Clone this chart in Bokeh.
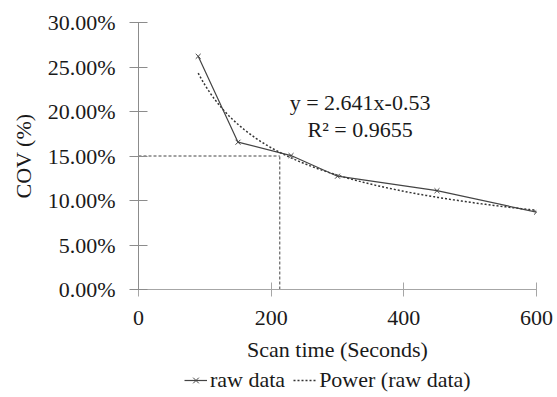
import numpy as np
from bokeh.plotting import figure
from bokeh.layouts import column
from bokeh.models import (Range1d, NumeralTickFormatter, FixedTicker, Legend, LegendItem, Label)
from bokeh.embed import file_html
from bokeh.resources import INLINE

# ---- data ----
scan_time = [90, 150, 230, 300, 450, 600]
cov = [0.262, 0.1655, 0.1505, 0.1273, 0.111, 0.0869]
fit_a = 2.641
fit_b = -0.53
ref_x = 213
ref_y = 0.15
x_ticks = [0, 200, 400, 600]
y_ticks = [0.0, 0.05, 0.10, 0.15, 0.20, 0.25, 0.30]
eq_text = "y = 2.641x-0.53"
r2_text = "R\u00b2 = 0.9655"
legend_labels = ["raw data", "Power (raw data)"]

FONT = "Liberation Serif"
TXT = "#1a1a1a"
RAW_C = "#444444"
FIT_C = "#333333"

p = figure(frame_width=398, frame_height=267, output_backend="svg", toolbar_location=None,
           x_range=Range1d(0, 600), y_range=Range1d(0, 0.30),
           min_border_left=138, min_border_right=21, min_border_top=22, min_border_bottom=76)
p.grid.visible = False
p.outline_line_color = None
p.background_fill_color = "white"
p.border_fill_color = "white"

# reference dashed lines
p.line([0, ref_x], [ref_y, ref_y], line_color="#444444", line_dash="3 2", line_width=1)
p.line([ref_x, ref_x], [0, ref_y], line_color="#444444", line_dash="3 2", line_width=1)

# power trendline (from the equation shown in the chart)
fx = np.linspace(scan_time[0], scan_time[-1], 200)
fy = fit_a * fx ** fit_b
p.line(fx, fy, line_color=FIT_C, line_dash="2 2", line_width=1.5)

p.line(scan_time, cov, line_color=RAW_C, line_width=1.2)
p.scatter(scan_time, cov, marker="x", size=7, line_color=RAW_C, line_width=1)

# axes
for ax in (p.xaxis, p.yaxis):
    ax.major_label_text_font = FONT
    ax.major_label_text_font_size = "22px"
    ax.major_label_text_color = TXT
    ax.axis_label_text_font = FONT
    ax.axis_label_text_font_size = "22px"
    ax.axis_label_text_font_style = "normal"
    ax.axis_label_text_color = TXT
    ax.minor_tick_line_color = None

p.xaxis.ticker = FixedTicker(ticks=x_ticks)
p.yaxis.ticker = FixedTicker(ticks=y_ticks)
p.yaxis.formatter = NumeralTickFormatter(format="0.00%")

p.xaxis.axis_line_color = "#a6a6a6"
p.xaxis.major_tick_line_color = "#a6a6a6"
p.xaxis.major_tick_in = 7
p.xaxis.major_tick_out = 7
p.xaxis.major_label_standoff = 14
p.xaxis.axis_label = "Scan time (Seconds)"
p.xaxis.axis_label_standoff = 9

p.yaxis.axis_line_color = "#8c8c8c"
p.yaxis.major_tick_line_color = "#8c8c8c"
p.yaxis.major_tick_in = 9
p.yaxis.major_tick_out = 9
p.yaxis.major_label_standoff = 14
p.yaxis.axis_label = "COV (%)"
p.yaxis.axis_label_standoff = 9

# equation labels
p.add_layout(Label(x=334, y=0.2104, text=eq_text, text_align="center", text_baseline="alphabetic",
                   text_font=FONT, text_font_size="22px", text_color=TXT))
p.add_layout(Label(x=334, y=0.1798, text=r2_text, text_align="center", text_baseline="alphabetic",
                   text_font=FONT, text_font_size="22px", text_color=TXT))

# legend strip below the chart (same series, drawn outside this strip's view)
q = figure(width=557, height=32, output_backend="svg", toolbar_location=None,
           x_range=Range1d(0, 1), y_range=Range1d(0, 1),
           min_border_left=0, min_border_right=0, min_border_top=0, min_border_bottom=0)
q.axis.visible = False
q.grid.visible = False
q.outline_line_color = None
q.border_fill_color = "white"
lr1 = q.line(scan_time, cov, line_color=RAW_C, line_width=1.2)
lr2 = q.scatter(scan_time, cov, marker="x", size=7, line_color=RAW_C, line_width=1)
lr3 = q.line(fx, fy, line_color=FIT_C, line_dash="2 2", line_width=1.5)

legend = Legend(items=[LegendItem(label=legend_labels[0], renderers=[lr1, lr2]),
                       LegendItem(label=legend_labels[1], renderers=[lr3])],
                orientation="horizontal", location=(46, 4))
legend.label_text_font = FONT
legend.label_text_font_size = "22px"
legend.label_text_color = TXT
legend.glyph_width = 23
legend.glyph_height = 20
legend.label_height = 20
legend.label_standoff = 3
legend.spacing = 8
legend.padding = 0
legend.margin = 0
legend.border_line_color = None
legend.background_fill_alpha = 0
q.add_layout(legend, "center")

layout = column(p, q, spacing=0)
open("out.html", "w").write(file_html(layout, INLINE))
